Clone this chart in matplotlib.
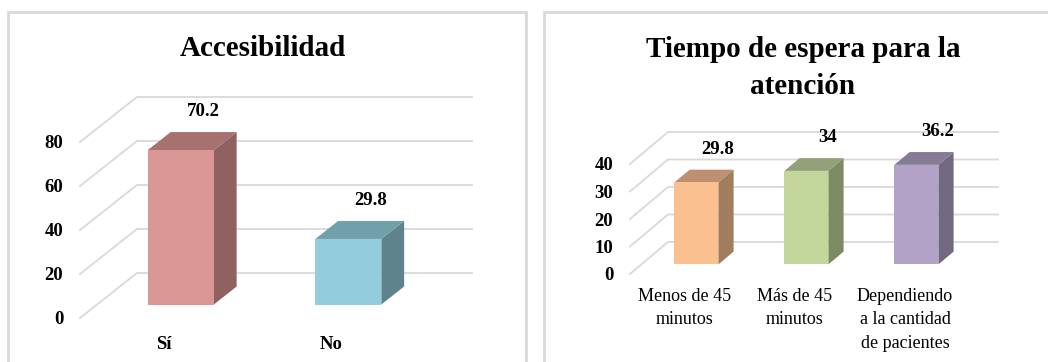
import numpy as np
import matplotlib.pyplot as plt
from matplotlib.patches import Polygon, Rectangle

# datos
cat_acc = ['Sí', 'No']
val_acc = [70.2, 29.8]
cat_esp = ['Menos de 45\nminutos', 'Más de 45\nminutos', 'Dependiendo\na la cantidad\nde pacientes']
val_esp = [29.8, 34, 36.2]
ticks_acc = [0, 20, 40, 60, 80]
ticks_esp = [0, 10, 20, 30, 40]

# colores (frente, lado, tapa)
col_acc = [('#D99694', '#8F6160', '#A6716E'), ('#93CDDD', '#5F838C', '#71A0AA')]
col_esp = [('#FAC090', '#A07D5C', '#BC9070'), ('#C3D69B', '#7E8A64', '#93A17A'),
           ('#B3A2C7', '#726881', '#867B95')]

W, H = 1048, 362
fig = plt.figure(figsize=(W / 100, H / 100), dpi=100)
plt.rcParams['font.family'] = ['Liberation Serif', 'DejaVu Serif']

# marcos de cada grafico
fig.patches.append(Rectangle((8 / W, -0.2), (526 - 8) / W, 1.2 - 12 / H, transform=fig.transFigure,
                             fill=False, edgecolor='#D9D9D9', lw=2))
fig.patches.append(Rectangle((544 / W, -0.2), 0.6, 1.2 - 12 / H, transform=fig.transFigure,
                             fill=False, edgecolor='#D9D9D9', lw=2))


def grafico_3d(rect, categorias, valores, colores, ticks, ymax, DX, DY, ancho,
               d0=0.3, d1=0.7, etiqueta_off=(16, 28), cat_bold=True, cat_size=13, cat_pad=13):
    ax = fig.add_axes(rect)
    n = len(categorias)
    ax.set_xlim(-0.5, n - 0.5)
    ax.set_ylim(0, ymax)
    for s in ax.spines.values():
        s.set_visible(False)
    ax.set_facecolor('none')

    # cuadricula en perspectiva
    for t in ticks:
        ax.plot([-0.5, -0.5 + DX, n - 0.5 + DX], [t, t + DY, t + DY],
                color='#D9D9D9', lw=1.3, clip_on=False, zorder=1)

    # barras
    for i, (v, (cf, cs, ct)) in enumerate(zip(valores, colores)):
        x0 = i - ancho / 2 + DX * d0
        x1 = i + ancho / 2 + DX * d0
        y0 = DY * d0
        ddx = DX * (d1 - d0)
        ddy = DY * (d1 - d0)
        lado = [(x1, y0), (x1 + ddx, y0 + ddy), (x1 + ddx, y0 + ddy + v), (x1, y0 + v)]
        tapa = [(x0, y0 + v), (x1, y0 + v), (x1 + ddx, y0 + ddy + v), (x0 + ddx, y0 + ddy + v)]
        frente = [(x0, y0), (x1, y0), (x1, y0 + v), (x0, y0 + v)]
        for pts, c in [(lado, cs), (tapa, ct), (frente, cf)]:
            ax.add_patch(Polygon(pts, closed=True, facecolor=c, edgecolor='none',
                                 clip_on=False, zorder=3))
        ax.annotate(f'{v:g}', xy=(i + DX * d0, y0 + v), xytext=etiqueta_off,
                    textcoords='offset points', ha='center', va='center',
                    fontsize=13.5, fontweight='bold', annotation_clip=False)

    ax.set_yticks(ticks)
    ax.set_yticklabels([str(t) for t in ticks], fontsize=13.5, fontweight='bold')
    ax.tick_params(axis='y', length=0, pad=12)
    ax.set_xticks(range(n))
    ax.set_xticklabels(categorias, fontsize=cat_size,
                       fontweight='bold' if cat_bold else 'normal', linespacing=1.5)
    ax.tick_params(axis='x', length=0, pad=cat_pad)
    return ax


# Accesibilidad
grafico_3d([80 / W, (H - 318) / H, 335 / W, 176 / H], cat_acc, val_acc, col_acc,
           ticks_acc, 80, DX=57 / 167.5, DY=45 / 2.2, ancho=0.394,
           etiqueta_off=(16, 28), cat_bold=True, cat_size=13.5, cat_pad=13)
fig.text(263 / W, 1 - 48 / H, 'Accesibilidad', ha='center', va='center',
         fontsize=21, fontweight='bold')

# Tiempo de espera
grafico_3d([630 / W, (H - 274) / H, 330 / W, 110 / H], cat_esp, val_esp, col_esp,
           ticks_esp, 40, DX=38 / 110, DY=32 / 2.75, ancho=0.4,
           etiqueta_off=(15, 24), cat_bold=False, cat_size=13, cat_pad=10)
fig.text(803 / W, 1 - 68 / H, 'Tiempo de espera para la\natención', ha='center', va='center',
         fontsize=21, fontweight='bold', linespacing=1.45)

fig.savefig('out.png', dpi=100)
